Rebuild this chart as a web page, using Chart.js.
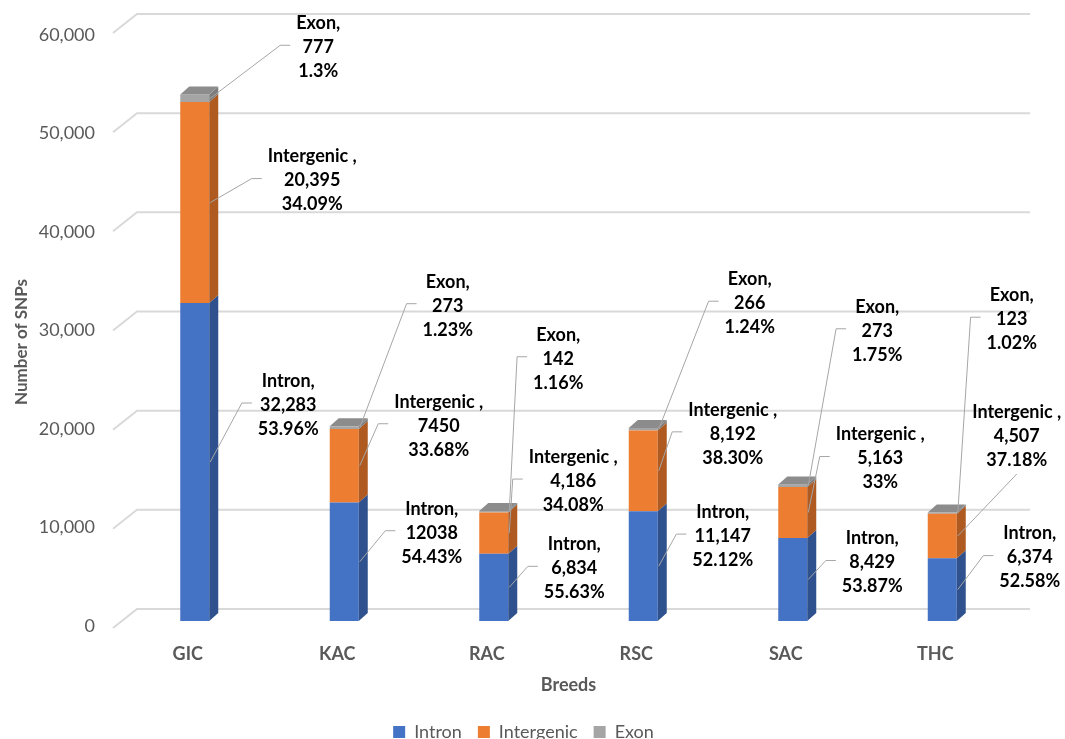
<!DOCTYPE html>
<html>
<head>
<meta charset="utf-8">
<script src="https://cdn.jsdelivr.net/npm/chart.js@4.4.1/dist/chart.umd.min.js"></script>
<style>
  html, body { margin: 0; padding: 0; background: #fff; overflow: hidden; }
  #wrap { width: 1065px; height: 751px; position: relative; }
</style>
</head>
<body>
<div id="wrap"><canvas id="snpChart"></canvas></div>
<script>
// Data
const breeds = ['GIC', 'KAC', 'RAC', 'RSC', 'SAC', 'THC'];
const intron = [32283, 12038, 6834, 11147, 8429, 6374];
const intergenic = [20395, 7450, 4186, 8192, 5163, 4507];
const exon = [777, 273, 142, 266, 273, 123];

// label text as printed on the chart
const intronText = ['32,283', '12038', '6,834', '11,147', '8,429', '6,374'];
const intergenicText = ['20,395', '7450', '4,186', '8,192', '5,163', '4,507'];
const exonText = ['777', '273', '142', '266', '273', '123'];
const intronPct = ['53.96%', '54.43%', '55.63%', '52.12%', '53.87%', '52.58%'];
const intergenicPct = ['34.09%', '33.68%', '34.08%', '38.30%', '33%', '37.18%'];
const exonPct = ['1.3%', '1.23%', '1.16%', '1.24%', '1.75%', '1.02%'];

const yTicks = [0, 10000, 20000, 30000, 40000, 50000, 60000];

// where each label sits, relative to its leader anchor (px)
const labelNudge = [
  [[78, -57], [72, -29], [65, -19], [64, -30], [64, -17], [72, -32]],
  [[102, -22], [79, -40], [64, -52], [74, -37], [72, -54], [59, -100]],
  [[108, -51], [88, -122], [49, -153], [91, -126], [69, -155], [54, -194]]
];

const FONT = 'Lato, "Open Sans", sans-serif';
const GREY_TEXT = '#595959';
const DEPTH_X = 9, DEPTH_Y = -8;
const sideColors = ['#2F528F', '#AE5A21', '#7C7C7C'];
const topColor = '#8C8C8C';

// back-wall gridlines with the little slanted stubs
const wallGrid = {
  id: 'wallGrid',
  beforeDatasetsDraw(chart) {
    const { ctx, chartArea, scales: { y } } = chart;
    ctx.save();
    ctx.strokeStyle = '#D9D9D9';
    ctx.lineWidth = 2;
    yTicks.forEach(v => {
      const t = v / 60000;
      const py = y.getPixelForValue(v);
      const back = py - 12 - 4 * t;
      const front = py + 7 - 4 * t;
      ctx.beginPath();
      ctx.moveTo(113, front);
      ctx.lineTo(137, back);
      ctx.lineTo(chartArea.right + 13, back);
      ctx.stroke();
    });
    ctx.restore();
  }
};

// side and top faces for the 3D look
const barDepth = {
  id: 'barDepth',
  afterDatasetsDraw(chart) {
    const { ctx } = chart;
    const last = chart.data.datasets.length - 1;
    ctx.save();
    chart.data.datasets.forEach((ds, i) => {
      chart.getDatasetMeta(i).data.forEach(el => {
        const x0 = el.x - el.width / 2, x1 = el.x + el.width / 2;
        const top = Math.min(el.y, el.base), bot = Math.max(el.y, el.base);
        ctx.fillStyle = sideColors[i];
        ctx.beginPath();
        ctx.moveTo(x1, bot);
        ctx.lineTo(x1, top);
        ctx.lineTo(x1 + DEPTH_X, top + DEPTH_Y);
        ctx.lineTo(x1 + DEPTH_X, bot + DEPTH_Y);
        ctx.closePath();
        ctx.fill();
        if (i === last) {
          ctx.fillStyle = topColor;
          ctx.beginPath();
          ctx.moveTo(x0, top);
          ctx.lineTo(x1, top);
          ctx.lineTo(x1 + DEPTH_X, top + DEPTH_Y);
          ctx.lineTo(x0 + DEPTH_X, top + DEPTH_Y);
          ctx.closePath();
          ctx.fill();
        }
      });
    });
    ctx.restore();
  }
};

// data labels with leader lines
const leaderLabels = {
  id: 'leaderLabels',
  afterDraw(chart) {
    const { ctx } = chart;
    const names = ['Intron,', 'Intergenic ,', 'Exon,'];
    const vals = [intronText, intergenicText, exonText];
    const pcts = [intronPct, intergenicPct, exonPct];
    const lh = 24;
    ctx.save();
    ctx.font = 'bold 18px ' + FONT;
    ctx.textAlign = 'center';
    ctx.textBaseline = 'middle';
    chart.data.datasets.forEach((ds, i) => {
      chart.getDatasetMeta(i).data.forEach((el, j) => {
        const ax = el.x + el.width / 2 + 1;
        const ay = (el.y + el.base) / 2;
        const cx = ax + labelNudge[i][j][0];
        const cy = ay + labelNudge[i][j][1];
        const lines = [names[i], vals[i][j], pcts[i][j]];
        const w = Math.max(...lines.map(s => ctx.measureText(s).width));
        const left = cx - w / 2;
        ctx.strokeStyle = '#A6A6A6';
        ctx.lineWidth = 1;
        ctx.beginPath();
        ctx.moveTo(ax, ay);
        if (left - 16 < ax + 2) {
          // label sits right above the bar: point at its bottom
          ctx.lineTo(cx, cy + lh + 14);
        } else {
          ctx.lineTo(left - 16, cy - 2);
          ctx.lineTo(left - 6, cy - 2);
        }
        ctx.stroke();
        ctx.fillStyle = '#000';
        lines.forEach((s, k) => ctx.fillText(s, cx, cy + (k - 1) * lh));
      });
    });
    ctx.restore();
  }
};

const ctx = document.getElementById('snpChart').getContext('2d');
new Chart(ctx, {
  type: 'bar',
  data: {
    labels: breeds,
    datasets: [
      { label: 'Intron', data: intron, backgroundColor: '#4472C4' },
      { label: 'Intergenic', data: intergenic, backgroundColor: '#ED7D31' },
      { label: 'Exon', data: exon, backgroundColor: '#A5A5A5' }
    ]
  },
  options: {
    responsive: true,
    maintainAspectRatio: false,
    animation: false,
    devicePixelRatio: 1,
    layout: { padding: { top: 30, right: 48, left: 30, bottom: 0 } },
    datasets: { bar: { categoryPercentage: 1, barPercentage: 0.194, borderWidth: 0 } },
    plugins: {
      tooltip: { enabled: false },
      legend: {
        position: 'bottom',
        labels: {
          boxWidth: 12, boxHeight: 12, padding: 16,
          color: GREY_TEXT,
          font: { family: FONT, size: 18 }
        }
      }
    },
    scales: {
      x: {
        stacked: true,
        grid: { display: false, drawTicks: false },
        border: { display: false },
        ticks: { color: GREY_TEXT, padding: 22, labelOffset: -7, font: { family: FONT, size: 18, weight: 'bold' } },
        title: { display: true, text: 'Breeds', color: GREY_TEXT, padding: { top: 10, bottom: 11 }, font: { family: FONT, size: 18, weight: 'bold' } },
        afterFit(scale) { scale.height = 86; }
      },
      y: {
        stacked: true,
        min: 0,
        max: 60000,
        grid: { display: false, drawTicks: false },
        border: { display: false },
        ticks: {
          stepSize: 10000, padding: 25, labelOffset: 5, color: GREY_TEXT,
          font: { family: FONT, size: 18 },
          callback: v => v.toLocaleString('en-US')
        },
        title: { display: true, text: 'Number of SNPs        ', color: GREY_TEXT, padding: { top: -19, bottom: 0 }, font: { family: FONT, size: 17, weight: 'bold' } },
        afterFit(scale) { scale.width = 90; scale.paddingTop = 0; }
      }
    }
  },
  plugins: [wallGrid, barDepth, leaderLabels]
});
</script>
</body>
</html>
